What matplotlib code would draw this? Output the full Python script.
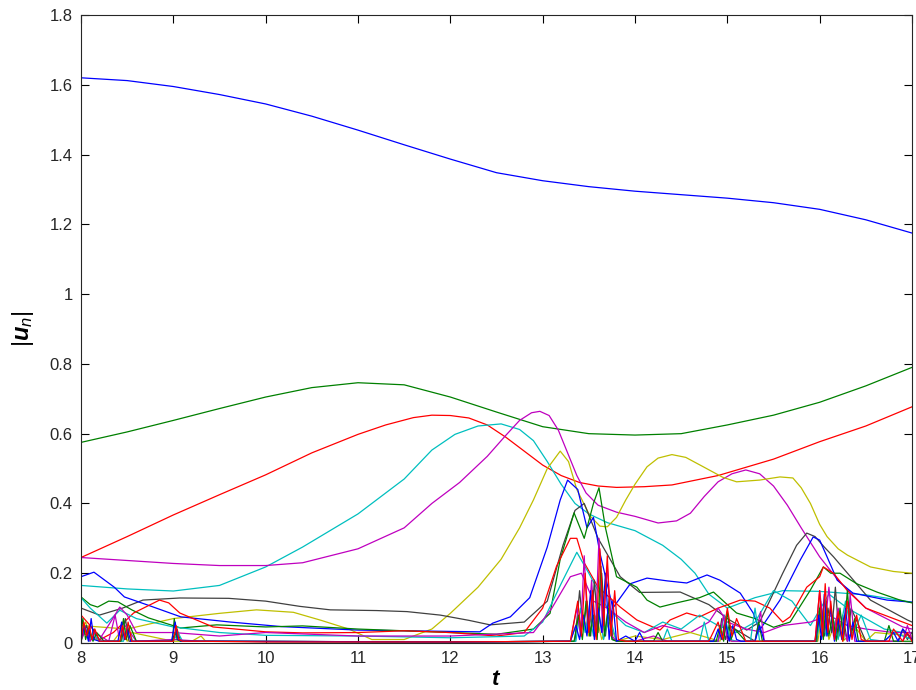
import numpy as np
import matplotlib
matplotlib.use("Agg")
import matplotlib.pyplot as plt
from matplotlib.ticker import FuncFormatter

#========================== DATA ==========================
# main modes |u_n| versus t
t_b1 = [8, 8.5, 9, 9.5, 10, 10.5, 11, 11.5, 12, 12.5, 13, 13.5, 14, 14.5, 15, 15.5, 16, 16.5, 17]
u_b1 = [1.620, 1.612, 1.595, 1.572, 1.545, 1.510, 1.470, 1.428, 1.387, 1.348, 1.325, 1.308, 1.295, 1.285, 1.275, 1.262, 1.243, 1.213, 1.175]

t_g1 = [8, 8.5, 9, 9.5, 10, 10.5, 11, 11.5, 12, 12.5, 13, 13.5, 14, 14.5, 15, 15.5, 16, 16.5, 17]
u_g1 = [0.575, 0.605, 0.638, 0.672, 0.705, 0.732, 0.746, 0.740, 0.705, 0.662, 0.620, 0.600, 0.596, 0.600, 0.625, 0.653, 0.690, 0.737, 0.790]

t_r1 = [8, 8.5, 9, 9.5, 10, 10.5, 11, 11.3, 11.6, 11.8, 12.0, 12.2, 12.4, 12.6, 12.8, 13, 13.2, 13.4, 13.6, 13.8, 14.1, 14.4, 14.9, 15.5, 16, 16.5, 17]
u_r1 = [0.245, 0.305, 0.367, 0.425, 0.482, 0.545, 0.598, 0.625, 0.646, 0.653, 0.652, 0.645, 0.625, 0.59, 0.55, 0.51, 0.48, 0.46, 0.45, 0.446, 0.448, 0.453, 0.48, 0.527, 0.577, 0.622, 0.677]

t_c1 = [8, 8.5, 9, 9.5, 10, 10.4, 11, 11.5, 11.8, 12.05, 12.3, 12.55, 12.75, 12.9, 13.05, 13.2, 13.35, 13.5, 13.7, 14, 14.3, 14.5, 14.65, 14.8, 15, 15.3, 15.6, 16, 16.5, 17]
u_c1 = [0.165, 0.155, 0.149, 0.165, 0.218, 0.275, 0.37, 0.47, 0.553, 0.598, 0.622, 0.628, 0.612, 0.58, 0.52, 0.455, 0.40, 0.37, 0.345, 0.322, 0.28, 0.24, 0.2, 0.14, 0.10, 0.13, 0.15, 0.148, 0.138, 0.117]

t_m1 = [8, 9, 9.5, 10, 10.4, 11, 11.5, 11.8, 12.1, 12.4, 12.6, 12.75, 12.88, 12.97, 13.07, 13.17, 13.27, 13.37, 13.47, 13.6, 13.8, 14, 14.25, 14.45, 14.6, 14.75, 14.9, 15.05, 15.2, 15.35, 15.5, 15.65, 15.8, 16, 16.2, 16.5, 16.9, 17]
u_m1 = [0.245, 0.228, 0.222, 0.222, 0.23, 0.27, 0.33, 0.40, 0.46, 0.535, 0.595, 0.638, 0.66, 0.664, 0.652, 0.61, 0.545, 0.48, 0.43, 0.395, 0.375, 0.363, 0.344, 0.35, 0.372, 0.42, 0.462, 0.485, 0.496, 0.485, 0.45, 0.395, 0.33, 0.247, 0.18, 0.1, 0.046, 0.04]

t_y1 = [8, 8.5, 9, 9.5, 9.9, 10.3, 10.6, 10.9, 11.15, 11.5, 11.8, 12, 12.3, 12.55, 12.75, 12.9, 13.05, 13.19, 13.28, 13.37, 13.51, 13.62, 13.7, 13.8, 13.9, 14.0, 14.13, 14.25, 14.4, 14.55, 14.74, 14.95, 15.1, 15.35, 15.57, 15.71, 15.8, 15.9, 16.0, 16.08, 16.2, 16.3, 16.55, 16.8, 17]
u_y1 = [0.05, 0.04, 0.07, 0.085, 0.095, 0.088, 0.065, 0.04, 0.01, 0.01, 0.04, 0.085, 0.16, 0.24, 0.33, 0.41, 0.50, 0.55, 0.52, 0.44, 0.365, 0.335, 0.333, 0.36, 0.41, 0.455, 0.505, 0.53, 0.54, 0.532, 0.505, 0.475, 0.462, 0.467, 0.476, 0.473, 0.445, 0.40, 0.34, 0.305, 0.27, 0.252, 0.218, 0.205, 0.2]

t_k1 = [8, 8.2, 8.45, 8.67, 9.07, 9.6, 10.0, 10.37, 10.7, 11.2, 11.53, 11.89, 12.2, 12.43, 12.8, 13.05, 13.22, 13.35, 13.45, 13.6, 13.84, 14.05, 14.49, 14.8, 15.0, 15.21, 15.35, 15.6, 15.75, 15.86, 15.95, 16.05, 16.15, 16.55, 16.95, 17]
u_k1 = [0.1, 0.08, 0.1, 0.123, 0.129, 0.128, 0.12, 0.105, 0.095, 0.093, 0.09, 0.08, 0.065, 0.052, 0.06, 0.12, 0.28, 0.38, 0.4, 0.3, 0.19, 0.145, 0.146, 0.11, 0.07, 0.037, 0.06, 0.2, 0.28, 0.315, 0.305, 0.275, 0.247, 0.123, 0.066, 0.06]

t_b2 = [8, 8.14, 8.36, 8.47, 8.72, 9.08, 9.62, 10.17, 11.0, 12.32, 12.46, 12.65, 12.86, 13.05, 13.19, 13.27, 13.38, 13.48, 13.55, 13.62, 13.76, 13.95, 14.13, 14.35, 14.56, 14.78, 14.92, 15.14, 15.28, 15.35, 15.57, 15.79, 15.93, 16.0, 16.08, 16.19, 16.36, 16.73, 17]
u_b2 = [0.19, 0.203, 0.16, 0.132, 0.109, 0.075, 0.06, 0.047, 0.037, 0.032, 0.057, 0.075, 0.13, 0.275, 0.41, 0.467, 0.44, 0.33, 0.36, 0.258, 0.10, 0.17, 0.186, 0.178, 0.172, 0.195, 0.18, 0.143, 0.086, 0.037, 0.123, 0.238, 0.304, 0.295, 0.247, 0.18, 0.143, 0.123, 0.117]

t_g2 = [8, 8.1, 8.18, 8.3, 8.4, 8.55, 8.73, 9.08, 9.47, 10, 10.4, 11, 11.5, 12, 12.5, 12.9, 13.08, 13.19, 13.34, 13.45, 13.55, 13.61, 13.68, 13.8, 14.02, 14.13, 14.27, 14.45, 14.7, 14.85, 15.1, 15.3, 15.5, 15.68, 15.9, 16.04, 16.12, 16.22, 16.4, 16.62, 16.87, 17]
u_g2 = [0.132, 0.11, 0.103, 0.12, 0.118, 0.095, 0.072, 0.043, 0.052, 0.046, 0.049, 0.04, 0.035, 0.03, 0.025, 0.04, 0.085, 0.24, 0.373, 0.30, 0.40, 0.445, 0.33, 0.19, 0.16, 0.123, 0.103, 0.115, 0.13, 0.146, 0.086, 0.07, 0.045, 0.06, 0.152, 0.218, 0.2, 0.2, 0.17, 0.146, 0.123, 0.115]

t_r2 = [8, 8.1, 8.2, 8.35, 8.57, 8.85, 8.95, 9.07, 9.43, 10, 10.4, 11, 11.5, 12, 12.5, 12.8, 13.0, 13.15, 13.3, 13.37, 13.45, 13.6, 13.84, 14.02, 14.27, 14.38, 14.56, 14.7, 14.9, 15.14, 15.3, 15.46, 15.6, 15.68, 15.86, 16.0, 16.04, 16.15, 16.3, 16.5, 16.7, 16.9, 17]
u_r2 = [0.08, 0.05, 0.009, 0.03, 0.086, 0.123, 0.115, 0.086, 0.046, 0.032, 0.029, 0.03, 0.035, 0.03, 0.02, 0.03, 0.1, 0.22, 0.3, 0.3, 0.23, 0.16, 0.103, 0.066, 0.037, 0.066, 0.086, 0.075, 0.1, 0.123, 0.12, 0.1, 0.06, 0.075, 0.16, 0.19, 0.218, 0.2, 0.15, 0.1, 0.08, 0.06, 0.05]

t_c2 = [8, 8.1, 8.28, 8.42, 8.6, 9, 9.5, 10, 11, 12, 12.8, 13.0, 13.2, 13.37, 13.5, 13.7, 13.9, 14.1, 14.3, 14.5, 14.7, 14.9, 15.1, 15.3, 15.5, 15.7, 15.9, 16.1, 16.3, 16.5, 16.7, 16.9, 17]
u_c2 = [0.13, 0.1, 0.057, 0.094, 0.07, 0.046, 0.03, 0.022, 0.02, 0.015, 0.02, 0.06, 0.17, 0.26, 0.2, 0.1, 0.05, 0.03, 0.06, 0.04, 0.08, 0.05, 0.03, 0.06, 0.15, 0.12, 0.05, 0.14, 0.1, 0.07, 0.04, 0.03, 0.03]

t_m2 = [8, 8.2, 8.32, 8.42, 8.5, 8.6, 9, 9.5, 10, 11, 12, 12.9, 13.1, 13.3, 13.42, 13.55, 13.7, 13.9, 14.1, 14.3, 14.6, 14.8, 14.9, 15, 15.2, 15.4, 15.6, 15.9, 16.1, 16.3, 16.5, 16.8, 17]
u_m2 = [0.03, 0.01, 0.06, 0.103, 0.08, 0.03, 0.03, 0.02, 0.03, 0.02, 0.02, 0.03, 0.1, 0.19, 0.2, 0.12, 0.1, 0.06, 0.03, 0.05, 0.03, 0.06, 0.1, 0.06, 0.04, 0.03, 0.05, 0.06, 0.08, 0.05, 0.04, 0.03, 0.03]

# high modes (bursty)
t_r3 = [8.0, 8.03, 8.06, 8.09, 8.12, 8.15, 8.2, 8.3, 8.42, 8.45, 8.48, 8.51, 8.55, 8.7, 9.0, 9.03, 9.06, 9.1, 9.3, 10, 11, 12, 13.3, 13.38, 13.42, 13.46, 13.5, 13.54, 13.58, 13.62, 13.66, 13.7, 13.74, 13.78, 13.82, 13.9, 14.2, 14.5, 14.8, 14.9, 14.95, 15.0, 15.05, 15.1, 15.2, 15.3, 15.6, 15.95, 16.0, 16.03, 16.06, 16.09, 16.12, 16.16, 16.2, 16.25, 16.3, 16.35, 16.4, 16.45, 16.5, 16.6, 16.75, 16.8, 16.9, 16.95, 17]
u_r3 = [0.005, 0.06, 0.02, 0.05, 0.01, 0.04, 0.005, 0.005, 0.005, 0.05, 0.01, 0.06, 0.005, 0.005, 0.005, 0.05, 0.01, 0.005, 0.005, 0.003, 0.003, 0.003, 0.005, 0.12, 0.02, 0.2, 0.03, 0.15, 0.01, 0.27, 0.05, 0.25, 0.02, 0.15, 0.01, 0.005, 0.005, 0.005, 0.005, 0.06, 0.01, 0.1, 0.02, 0.07, 0.005, 0.005, 0.005, 0.005, 0.15, 0.02, 0.17, 0.03, 0.12, 0.01, 0.09, 0.005, 0.12, 0.01, 0.08, 0.01, 0.005, 0.005, 0.005, 0.04, 0.005, 0.03, 0.005]

t_b3 = [8.0, 8.04, 8.08, 8.11, 8.14, 8.2, 8.4, 8.44, 8.47, 8.5, 8.54, 8.7, 8.98, 9.02, 9.05, 9.09, 9.4, 12, 13.3, 13.36, 13.4, 13.44, 13.48, 13.52, 13.56, 13.6, 13.64, 13.68, 13.72, 13.76, 13.8, 13.9, 14.0, 14.05, 14.1, 14.5, 14.85, 14.9, 14.94, 14.98, 15.02, 15.06, 15.1, 15.15, 15.3, 15.35, 15.4, 15.5, 15.95, 15.99, 16.02, 16.05, 16.08, 16.12, 16.16, 16.2, 16.24, 16.28, 16.32, 16.36, 16.4, 16.5, 16.7, 16.8, 16.85, 16.9, 17]
u_b3 = [0.01, 0.05, 0.005, 0.07, 0.01, 0.005, 0.005, 0.06, 0.01, 0.04, 0.005, 0.005, 0.005, 0.06, 0.01, 0.005, 0.005, 0.003, 0.005, 0.05, 0.01, 0.08, 0.02, 0.15, 0.01, 0.1, 0.03, 0.2, 0.01, 0.12, 0.005, 0.02, 0.005, 0.03, 0.005, 0.005, 0.005, 0.04, 0.01, 0.06, 0.005, 0.05, 0.01, 0.005, 0.005, 0.05, 0.005, 0.005, 0.005, 0.08, 0.01, 0.14, 0.02, 0.1, 0.005, 0.07, 0.01, 0.1, 0.005, 0.06, 0.005, 0.005, 0.005, 0.03, 0.005, 0.04, 0.01]

t_g3 = [8.0, 8.02, 8.05, 8.08, 8.13, 8.17, 8.25, 8.43, 8.46, 8.49, 8.53, 8.6, 8.99, 9.01, 9.04, 9.08, 9.3, 12, 13.34, 13.39, 13.43, 13.47, 13.51, 13.55, 13.59, 13.63, 13.67, 13.71, 13.75, 13.8, 14.2, 14.25, 14.3, 14.6, 14.88, 14.92, 14.96, 15.0, 15.04, 15.08, 15.2, 15.3, 15.34, 15.38, 15.6, 15.96, 16.0, 16.04, 16.07, 16.1, 16.14, 16.18, 16.22, 16.26, 16.3, 16.34, 16.38, 16.42, 16.5, 16.7, 16.75, 16.8, 17]
u_g3 = [0.02, 0.07, 0.01, 0.04, 0.005, 0.03, 0.005, 0.005, 0.07, 0.01, 0.05, 0.005, 0.005, 0.07, 0.01, 0.005, 0.005, 0.003, 0.005, 0.08, 0.01, 0.12, 0.02, 0.08, 0.01, 0.22, 0.02, 0.1, 0.01, 0.005, 0.005, 0.03, 0.005, 0.005, 0.005, 0.05, 0.005, 0.09, 0.01, 0.04, 0.005, 0.005, 0.06, 0.005, 0.005, 0.005, 0.1, 0.01, 0.12, 0.02, 0.08, 0.005, 0.1, 0.01, 0.15, 0.02, 0.07, 0.005, 0.005, 0.005, 0.05, 0.005, 0.005]

t_m3 = [8.0, 8.05, 8.1, 8.15, 8.3, 8.37, 8.41, 8.45, 8.6, 9.0, 9.3, 12, 13.3, 13.37, 13.41, 13.45, 13.49, 13.53, 13.57, 13.61, 13.65, 13.7, 13.75, 13.8, 14.0, 14.2, 14.35, 14.5, 14.9, 14.96, 15.0, 15.05, 15.3, 15.36, 15.4, 15.95, 16.0, 16.05, 16.1, 16.15, 16.2, 16.3, 16.33, 16.38, 16.6, 16.9, 16.95, 17]
u_m3 = [0.01, 0.04, 0.005, 0.03, 0.005, 0.08, 0.02, 0.06, 0.005, 0.01, 0.005, 0.003, 0.005, 0.1, 0.02, 0.25, 0.03, 0.18, 0.02, 0.3, 0.03, 0.22, 0.02, 0.005, 0.005, 0.02, 0.005, 0.005, 0.005, 0.08, 0.01, 0.005, 0.005, 0.09, 0.005, 0.005, 0.15, 0.03, 0.16, 0.02, 0.1, 0.005, 0.14, 0.005, 0.005, 0.005, 0.05, 0.01]

t_k3 = [8.0, 8.06, 8.1, 8.14, 8.2, 8.44, 8.48, 8.52, 8.6, 9.0, 9.04, 9.08, 12, 13.35, 13.4, 13.44, 13.48, 13.52, 13.56, 13.6, 13.64, 13.68, 13.72, 13.76, 13.85, 14.5, 14.9, 14.94, 14.98, 15.02, 15.3, 15.97, 16.01, 16.05, 16.09, 16.13, 16.17, 16.21, 16.25, 16.3, 16.34, 16.5, 16.85, 16.9, 16.95, 17]
u_k3 = [0.005, 0.05, 0.01, 0.04, 0.005, 0.005, 0.07, 0.005, 0.005, 0.005, 0.04, 0.005, 0.003, 0.005, 0.15, 0.04, 0.12, 0.02, 0.18, 0.03, 0.2, 0.02, 0.13, 0.01, 0.005, 0.005, 0.005, 0.07, 0.01, 0.05, 0.005, 0.005, 0.12, 0.02, 0.1, 0.03, 0.16, 0.02, 0.08, 0.005, 0.1, 0.005, 0.005, 0.04, 0.01, 0.03]

t_c3 = [8.0, 8.04, 8.09, 8.13, 8.2, 8.46, 8.5, 8.56, 9.0, 9.05, 9.1, 12, 13.36, 13.41, 13.46, 13.5, 13.55, 13.6, 13.66, 13.72, 13.8, 14.3, 14.35, 14.4, 14.7, 14.75, 14.8, 14.9, 14.97, 15.03, 15.1, 15.25, 15.3, 15.35, 15.96, 16.02, 16.07, 16.12, 16.2, 16.28, 16.35, 16.45, 16.55, 16.7, 16.8, 17]
u_c3 = [0.01, 0.05, 0.005, 0.03, 0.005, 0.005, 0.05, 0.005, 0.005, 0.03, 0.005, 0.003, 0.005, 0.1, 0.03, 0.09, 0.02, 0.1, 0.01, 0.08, 0.005, 0.005, 0.04, 0.005, 0.005, 0.06, 0.005, 0.005, 0.08, 0.01, 0.005, 0.005, 0.1, 0.005, 0.005, 0.08, 0.02, 0.1, 0.01, 0.12, 0.02, 0.08, 0.01, 0.005, 0.03, 0.01]

t_y3 = [8.0, 8.05, 8.1, 8.2, 8.35, 8.45, 8.5, 8.55, 9.0, 9.2, 9.3, 9.35, 12, 13.3, 13.42, 13.5, 13.58, 13.64, 13.72, 13.8, 14.0, 14.3, 14.6, 14.92, 14.98, 15.04, 15.3, 15.98, 16.04, 16.1, 16.18, 16.25, 16.4, 16.5, 16.6, 17]
u_y3 = [0.03, 0.06, 0.02, 0.005, 0.005, 0.04, 0.005, 0.03, 0.005, 0.005, 0.02, 0.005, 0.003, 0.005, 0.1, 0.02, 0.08, 0.01, 0.06, 0.005, 0.02, 0.01, 0.03, 0.005, 0.06, 0.005, 0.005, 0.005, 0.1, 0.01, 0.07, 0.005, 0.04, 0.005, 0.03, 0.02]

x_ticks = [8, 9, 10, 11, 12, 13, 14, 15, 16, 17]
y_ticks = [0, 0.2, 0.4, 0.6, 0.8, 1, 1.2, 1.4, 1.6, 1.8]
#=================================================================================

# old matlab colour order
B = (0, 0, 1)
G = (0, 0.5, 0)
R = (1, 0, 0)
C = (0, 0.75, 0.75)
M = (0.75, 0, 0.75)
Y = (0.75, 0.75, 0)
K = (0.25, 0.25, 0.25)

curves = [
    (t_b1, u_b1, B), (t_g1, u_g1, G), (t_r1, u_r1, R), (t_c1, u_c1, C),
    (t_m1, u_m1, M), (t_y1, u_y1, Y), (t_k1, u_k1, K), (t_b2, u_b2, B),
    (t_g2, u_g2, G), (t_r2, u_r2, R), (t_c2, u_c2, C), (t_m2, u_m2, M),
    (t_y3, u_y3, Y), (t_k3, u_k3, K), (t_c3, u_c3, C), (t_m3, u_m3, M),
    (t_g3, u_g3, G), (t_b3, u_b3, B), (t_r3, u_r3, R),
]

plt.rcParams['font.family'] = ['Liberation Sans', 'DejaVu Sans']
plt.rcParams['mathtext.fontset'] = 'custom'
plt.rcParams['mathtext.rm'] = 'Liberation Sans'
plt.rcParams['mathtext.it'] = 'Liberation Sans:italic'
plt.rcParams['mathtext.bf'] = 'Liberation Sans:bold'
plt.rcParams['mathtext.bfit'] = 'Liberation Sans:italic:bold'

fig = plt.figure(figsize=(9.16, 6.9), dpi=100)
ax = fig.add_axes([81 / 916, 47 / 690, 831 / 916, 628 / 690])

for t, u, col in curves:
    ax.plot(t, u, color=col, lw=0.9)

ax.set_xlim(8, 17)
ax.set_ylim(0, 1.8)
ax.set_xticks(x_ticks)
ax.set_yticks(y_ticks)
ax.yaxis.set_major_formatter(FuncFormatter(lambda v, p: '%g' % v))
ax.tick_params(direction='in', length=6, width=0.8, top=True, right=True,
               labelsize=12, labelcolor='#262626', pad=6)
for s in ax.spines.values():
    s.set_linewidth(0.8)
    s.set_color('#262626')

ax.set_xlabel(r'$\mathbfit{t}$', fontsize=16, labelpad=2)
ax.set_ylabel(r'$|\mathbfit{u}_{n}|$', fontsize=17, labelpad=10)

fig.savefig('out.png', dpi=100)
